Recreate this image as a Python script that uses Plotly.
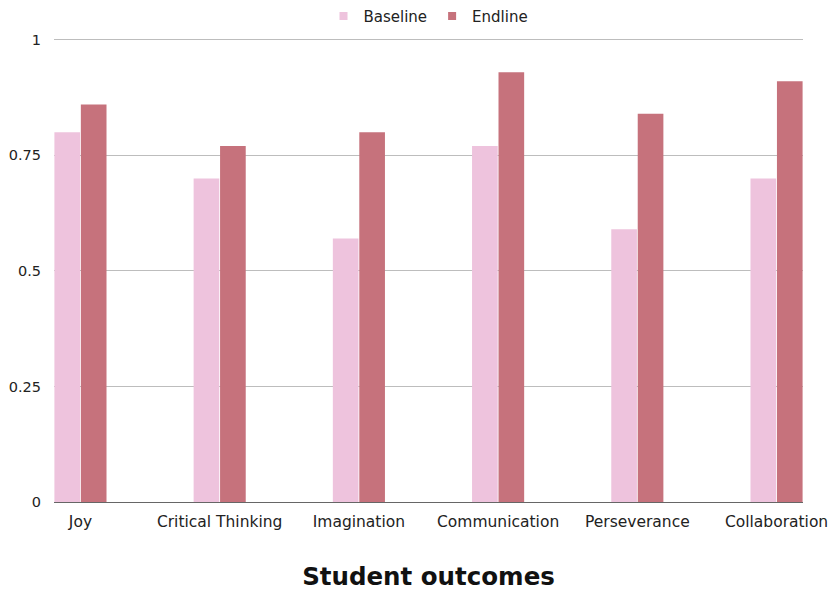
import plotly.graph_objects as go

categories = ["Joy", "Critical Thinking", "Imagination", "Communication", "Perseverance", "Collaboration"]
baseline = [0.80, 0.70, 0.57, 0.77, 0.59, 0.70]
endline = [0.86, 0.77, 0.80, 0.93, 0.84, 0.91]
series_names = ["Baseline", "Endline"]
series_colors = ["#EEC3DD", "#C6727C"]
y_ticks = [0, 0.25, 0.5, 0.75, 1]
y_tick_labels = ["0", "0.25", "0.5", "0.75", "1"]

FONT = "DejaVu Sans"

fig = go.Figure()
for name, vals, col in zip(series_names, [baseline, endline], series_colors):
    fig.add_trace(go.Bar(name=name, x=categories, y=vals, marker_color=col,
                         marker_line_width=0, showlegend=False))
for name, col in zip(series_names, series_colors):
    fig.add_trace(go.Scatter(name=name, x=[None], y=[None], mode="markers",
                             marker=dict(symbol="square", size=8, color=col),
                             showlegend=True, hoverinfo="skip"))

fig.update_layout(
    width=832, height=591,
    margin=dict(l=54, r=29, t=37, b=89, autoexpand=False),
    paper_bgcolor="white", plot_bgcolor="white",
    barmode="group", bargap=0.62, bargroupgap=0.03,
    font=dict(family=FONT, size=15, color="#222222"),
    legend=dict(orientation="h", x=0.5, xanchor="center", y=1.08, yanchor="top",
                bgcolor="rgba(0,0,0,0)",
                font=dict(size=15, color="#222222"), itemwidth=30, traceorder="normal"),
    xaxis=dict(range=[-0.19, 5.19], showgrid=False, showline=False, ticks="", automargin=False,
               tickfont=dict(size=15.5, color="#222222"), ticklabelstandoff=8,
               title=dict(text="<b>Student outcomes</b>", font=dict(size=24.5, color="#111111"), standoff=39)),
    yaxis=dict(range=[0, 1.006], tickvals=y_ticks, ticktext=y_tick_labels, showgrid=True, automargin=False,
               gridcolor="#BDBDBD", gridwidth=1, zeroline=True, zerolinecolor="#666666",
               zerolinewidth=1, showline=False, ticks="", ticklabelstandoff=12,
               tickfont=dict(size=14.5, color="#222222")),
)

fig.write_html("out.html")
